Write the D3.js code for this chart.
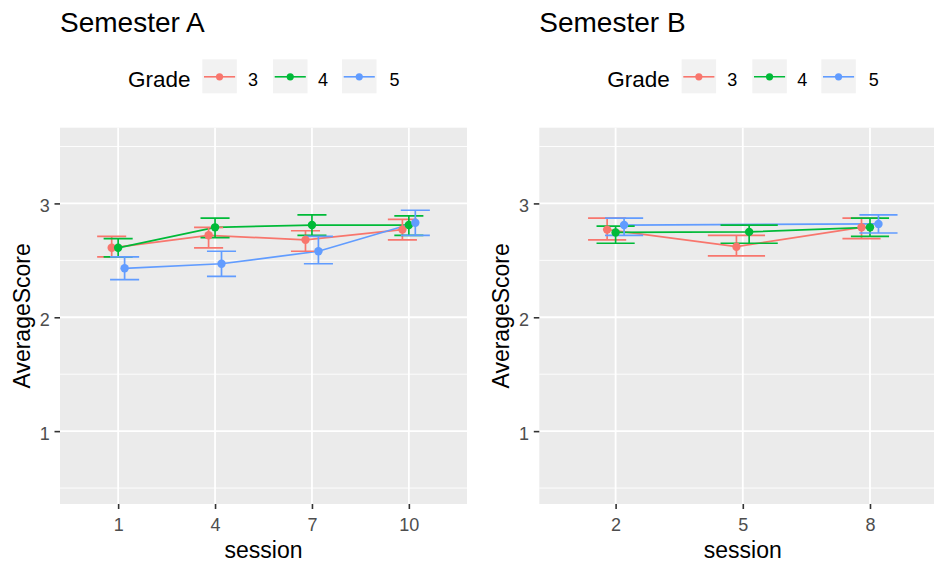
<!DOCTYPE html>
<html>
<head>
<meta charset="utf-8">
<script src="https://cdn.jsdelivr.net/npm/d3@7"></script>
<style>
  body { margin: 0; background: #fff; }
  svg { display: block; font-family: "Liberation Sans", Arial, sans-serif; }
</style>
</head>
<body>
<svg id="chart" width="934" height="562"></svg>
<script>
// Grade groups and their ggplot hue colours
const grades = ['3', '4', '5'];
const gradeColors = ['#F8766D', '#00BA38', '#619CFF'];

// y axis breaks
const yTicks = [1, 2, 3];
const yMinor = [0.5, 1.5, 2.5, 3.5];

// Semester A: rows are grades 3, 4, 5; columns are sessions
const sessionsA = [1, 4, 7, 10];
const meanA = [
  [2.61, 2.72, 2.68, 2.77],
  [2.61, 2.79, 2.81, 2.81],
  [2.43, 2.47, 2.58, 2.83]
];
const lowA = [
  [2.53, 2.61, 2.58, 2.68],
  [2.53, 2.70, 2.72, 2.72],
  [2.33, 2.36, 2.47, 2.72]
];
const highA = [
  [2.71, 2.79, 2.76, 2.86],
  [2.69, 2.87, 2.90, 2.89],
  [2.53, 2.58, 2.71, 2.94]
];

// Semester B (grade 5 has no session 5)
const sessionsB = [2, 5, 8];
const meanB = [
  [2.77, 2.62, 2.79],
  [2.745, 2.75, 2.79],
  [2.81, null, 2.82]
];
const lowB = [
  [2.68, 2.54, 2.69],
  [2.65, 2.65, 2.71],
  [2.72, null, 2.74]
];
const highB = [
  [2.87, 2.72, 2.87],
  [2.80, 2.81, 2.87],
  [2.87, null, 2.90]
];

const svg = d3.select('#chart');
const panelTop = 127.7, panelBottom = 504, panelW = 407;

drawPanel('Semester A', 60, sessionsA, meanA, lowA, highA);
drawPanel('Semester B', 539.3, sessionsB, meanB, lowB, highB);

function drawPanel(title, left, sessions, means, lows, highs) {
  const x = d3.scalePoint().domain(sessions).range([left, left + panelW]).padding(0.6);
  const y = d3.scaleLinear().domain([0.36, 3.665]).range([panelBottom, panelTop]);
  const step = x.step();
  const cx = left + panelW / 2;

  // build rows and dodge them per session (ggplot position_dodge, width 0.2)
  const rows = [];
  sessions.forEach((s, j) => {
    const present = grades.map((g, i) => i).filter(i => means[i][j] != null);
    present.forEach((i, k) => {
      const n = present.length;
      rows.push({
        g: i, session: s,
        mean: means[i][j], lo: lows[i][j], hi: highs[i][j],
        px: x(s) + step * 0.2 * ((k + 0.5) / n - 0.5),
        half: step * 0.9 / n / 2
      });
    });
  });

  // panel background + grid
  svg.append('rect')
    .attr('x', left).attr('y', panelTop)
    .attr('width', panelW).attr('height', panelBottom - panelTop)
    .attr('fill', '#EBEBEB');

  const grid = svg.append('g').attr('stroke', '#fff').attr('fill', 'none');
  grid.selectAll('.minor').data(yMinor).enter().append('line')
    .attr('x1', left).attr('x2', left + panelW)
    .attr('y1', d => y(d)).attr('y2', d => y(d))
    .attr('stroke-width', 0.9);
  grid.selectAll('.majy').data(yTicks).enter().append('line')
    .attr('x1', left).attr('x2', left + panelW)
    .attr('y1', d => y(d)).attr('y2', d => y(d))
    .attr('stroke-width', 1.8);
  grid.selectAll('.majx').data(sessions).enter().append('line')
    .attr('x1', d => x(d)).attr('x2', d => x(d))
    .attr('y1', panelTop).attr('y2', panelBottom)
    .attr('stroke-width', 1.8);

  // lines
  const line = d3.line().x(d => d.px).y(d => y(d.mean));
  grades.forEach((g, i) => {
    svg.append('path')
      .datum(rows.filter(r => r.g === i))
      .attr('d', line)
      .attr('fill', 'none')
      .attr('stroke', gradeColors[i])
      .attr('stroke-width', 1.7);
  });

  // error bars
  const eb = svg.append('g').attr('fill', 'none').attr('stroke-width', 1.7);
  rows.forEach(r => {
    const path = d3.path();
    path.moveTo(r.px - r.half, y(r.hi)); path.lineTo(r.px + r.half, y(r.hi));
    path.moveTo(r.px, y(r.hi)); path.lineTo(r.px, y(r.lo));
    path.moveTo(r.px - r.half, y(r.lo)); path.lineTo(r.px + r.half, y(r.lo));
    eb.append('path').attr('d', path.toString()).attr('stroke', gradeColors[r.g]);
  });

  // points
  svg.append('g').selectAll('circle').data(rows).enter().append('circle')
    .attr('cx', d => d.px).attr('cy', d => y(d.mean))
    .attr('r', 4.2)
    .attr('fill', d => gradeColors[d.g]);

  // axes
  const xAxis = svg.append('g')
    .attr('transform', `translate(0,${panelBottom})`)
    .call(d3.axisBottom(x).tickSize(5).tickSizeOuter(0).tickPadding(9.5));
  const yAxis = svg.append('g')
    .attr('transform', `translate(${left},0)`)
    .call(d3.axisLeft(y).tickValues(yTicks).tickFormat(d3.format('d')).tickSize(5.5).tickPadding(4.8));
  [xAxis, yAxis].forEach(a => {
    a.select('.domain').remove();
    a.selectAll('.tick line').attr('stroke', '#333333').attr('stroke-width', 1.6);
    a.selectAll('.tick text')
      .attr('fill', '#4D4D4D')
      .style('font-size', '18px')
      .style('font-family', '"Liberation Sans", Arial, sans-serif');
  });
  yAxis.selectAll('.tick text').attr('dy', '0.47em');

  // axis titles
  svg.append('text')
    .attr('x', cx).attr('y', 558)
    .attr('text-anchor', 'middle')
    .style('font-size', '23px')
    .text('session');
  svg.append('text')
    .attr('transform', `translate(${left - 30.5},${(panelTop + panelBottom) / 2}) rotate(-90)`)
    .attr('text-anchor', 'middle')
    .style('font-size', '23px')
    .text('AverageScore');

  // plot title
  svg.append('text')
    .attr('x', left).attr('y', 32)
    .style('font-size', '28px')
    .text(title);

  // legend
  const lg = svg.append('g').attr('transform', `translate(${left},0)`);
  lg.append('text')
    .attr('x', 68).attr('y', 86.5)
    .style('font-size', '22.5px')
    .text('Grade');
  const keyX = [142.3, 213, 282];
  const labelX = [188, 258, 329.5];
  grades.forEach((g, i) => {
    lg.append('rect')
      .attr('x', keyX[i]).attr('y', 59.3)
      .attr('width', 34.5).attr('height', 34)
      .attr('fill', '#F2F2F2');
    lg.append('line')
      .attr('x1', keyX[i] + 1.7).attr('x2', keyX[i] + 32.8)
      .attr('y1', 76.8).attr('y2', 76.8)
      .attr('stroke', gradeColors[i]).attr('stroke-width', 1.6);
    lg.append('circle')
      .attr('cx', keyX[i] + 17.25).attr('cy', 76.8)
      .attr('r', 3.6)
      .attr('fill', gradeColors[i]);
    lg.append('text')
      .attr('x', labelX[i]).attr('y', 86)
      .style('font-size', '18px')
      .text(g);
  });
}
</script>
</body>
</html>
